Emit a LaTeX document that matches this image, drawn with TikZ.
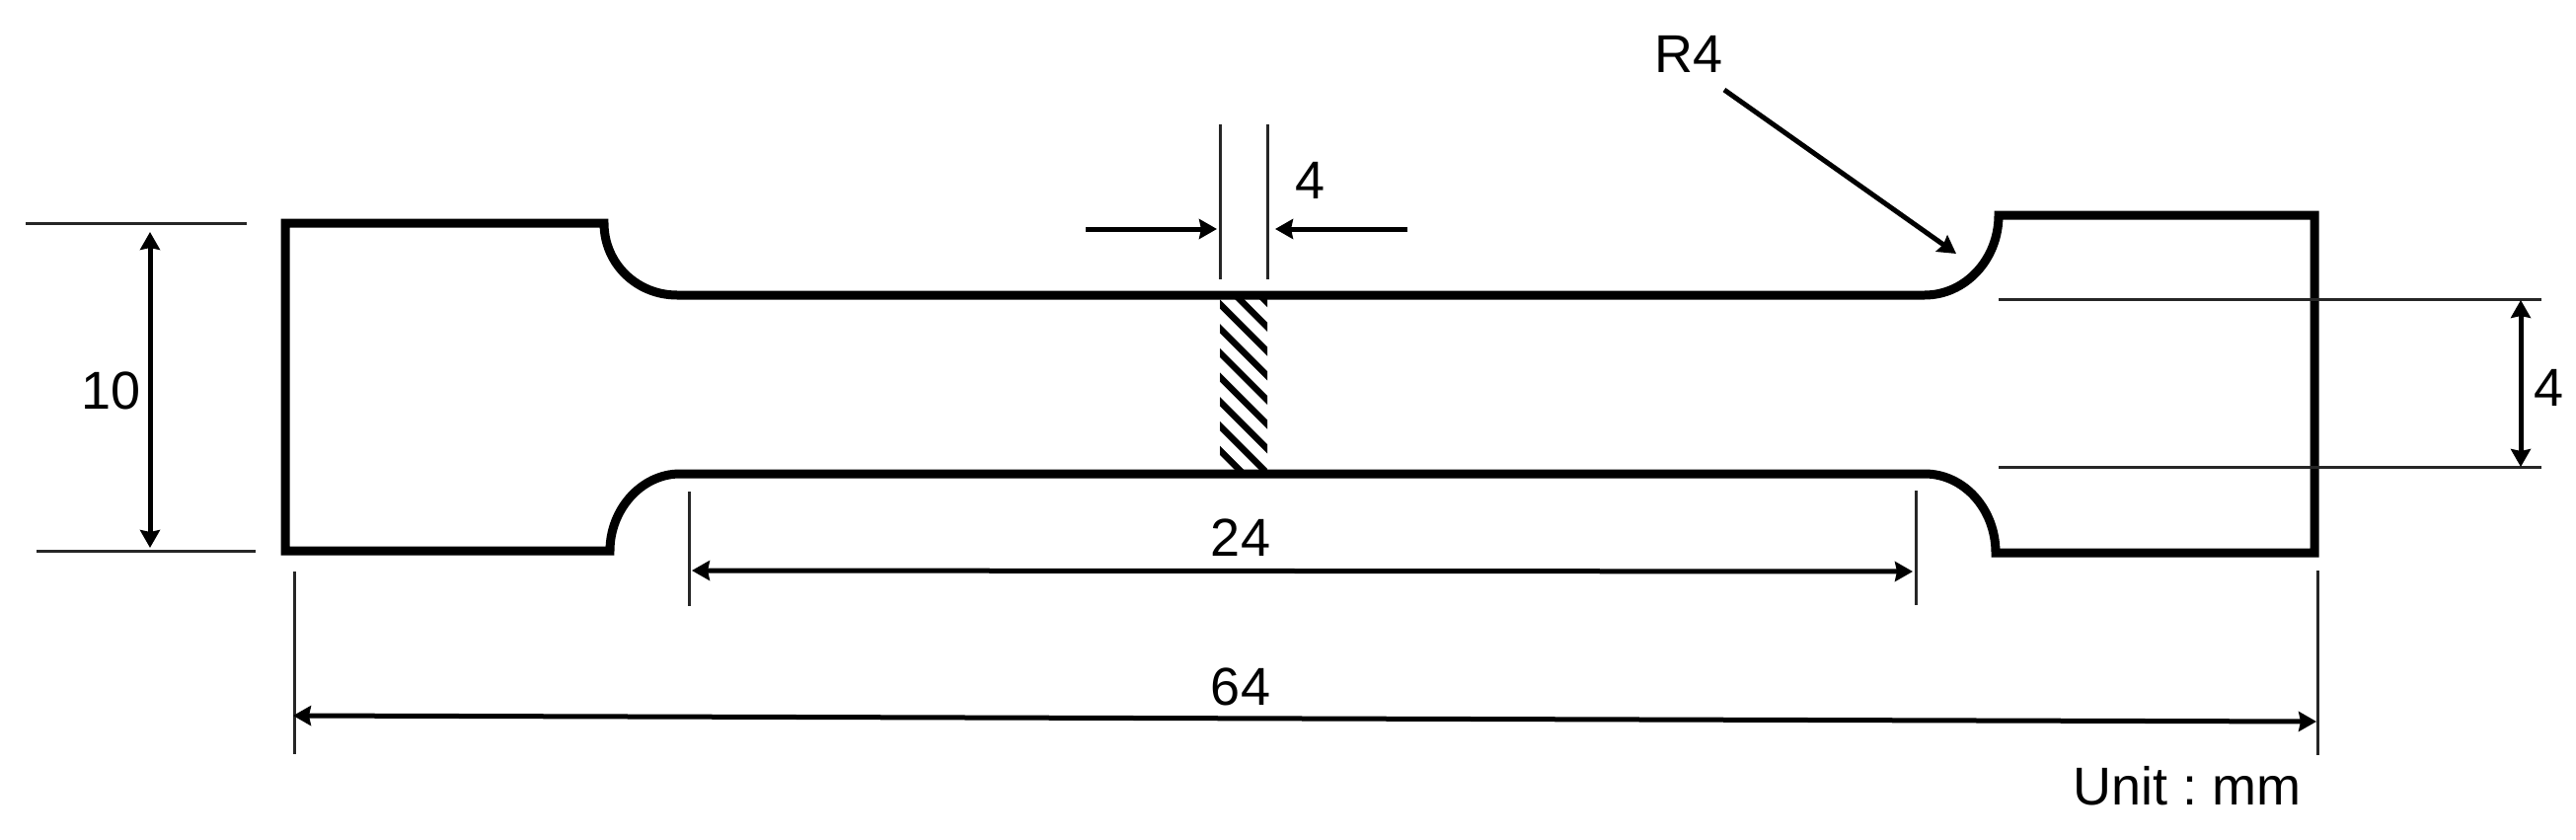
\documentclass[tikz,border=0pt]{standalone}
\usepackage{fontspec}
\setmainfont{Liberation Sans}
\usetikzlibrary{arrows.meta}
\tikzset{
  bodyline/.style={draw=black,line width=9pt,miter limit=4},
  thinline/.style={draw=black!85,line width=3pt},
  dimline/.style={draw=black,line width=5pt,-{Stealth[length=18pt,width=20pt,inset=2pt]}},
  dimboth/.style={draw=black,line width=5pt,{Stealth[length=18pt,width=20pt,inset=2pt]}-{Stealth[length=18pt,width=20pt,inset=2pt]}},
  hatchline/.style={draw=black,line width=6.5pt},
  lbl/.style={inner sep=0pt,outer sep=0pt,anchor=base,font=\fontsize{54}{60}\selectfont\frenchspacing}
}
\begin{document}
\begin{tikzpicture}[x=1pt,y=-1pt]
\useasboundingbox[fill=white] (0,0) rectangle (2610,851);
% hatching
\begin{scope}
\clip (1236,299) rectangle (1284,481);
\foreach \k in {-2,...,6}{
  \draw[hatchline] (1226,{298+\k*24.7}) -- (1294,{366+\k*24.7});
}
\end{scope}
% specimen outline
\draw[bodyline] (612,226) -- (289,226) -- (289,558) -- (618,558)
  .. controls (618,516) and (650,480) .. (689,480)
  -- (1950,480)
  .. controls (1990,480) and (2022,516) .. (2022,560)
  -- (2345,560) -- (2345,218) -- (2025,218)
  .. controls (2025,263) and (1991,299) .. (1950,299)
  -- (686,299)
  .. controls (645,299) and (612,267) .. (612,226) -- cycle;
% coordinates of the extension lines and dimension arrows
\coordinate (tl1) at (26,226);   \coordinate (tl2) at (250,226);
\coordinate (bl1) at (37,558);   \coordinate (bl2) at (259,558);
\coordinate (a10t) at (152,235); \coordinate (a10b) at (152,555);
\coordinate (v1t) at (1236,126); \coordinate (v1b) at (1236,283);
\coordinate (v2t) at (1284,126); \coordinate (v2b) at (1284,283);
\coordinate (a4ls) at (1100,232); \coordinate (a4le) at (1233,232);
\coordinate (a4rs) at (1426,232); \coordinate (a4re) at (1292,232);
\coordinate (rt1) at (2025,303); \coordinate (rt2) at (2575,303);
\coordinate (rb1) at (2025,473); \coordinate (rb2) at (2575,473);
\coordinate (a4t) at (2554,304); \coordinate (a4b) at (2554,473);
\coordinate (v24l1) at (698,498); \coordinate (v24l2) at (698,614);
\coordinate (v24r1) at (1941,497); \coordinate (v24r2) at (1941,613);
\coordinate (a24l) at (701,578); \coordinate (a24r) at (1938,579);
\coordinate (v64l1) at (298,579); \coordinate (v64l2) at (298,764);
\coordinate (v64r1) at (2348,578); \coordinate (v64r2) at (2348,765);
\coordinate (a64l) at (297,725); \coordinate (a64r) at (2347,731);
\coordinate (r4s) at (1747,91); \coordinate (r4e) at (1982,257);
% extension lines
\draw[thinline] (tl1) -- (tl2);
\draw[thinline] (bl1) -- (bl2);
\draw[thinline] (v1t) -- (v1b);
\draw[thinline] (v2t) -- (v2b);
\draw[thinline] (rt1) -- (rt2);
\draw[thinline] (rb1) -- (rb2);
\draw[thinline] (v24l1) -- (v24l2);
\draw[thinline] (v24r1) -- (v24r2);
\draw[thinline] (v64l1) -- (v64l2);
\draw[thinline] (v64r1) -- (v64r2);
% dimension arrows
\draw[dimboth] (a10t) -- (a10b);
\draw[dimline] (a4ls) -- (a4le);
\draw[dimline] (a4rs) -- (a4re);
\draw[dimboth] (a4t) -- (a4b);
\draw[dimboth] (a24l) -- (a24r);
\draw[dimboth] (a64l) -- (a64r);
\draw[dimline] (r4s) -- (r4e);
% labels
\node[lbl] (n10) at (113,414) {10};
\node[lbl] (n4top) at (1327,201) {4};
\node[lbl] (n4right) at (2582,411) {4};
\node[lbl] (nr4) at (1711,74) {R4};
\node[lbl] (n24) at (1257,563) {24};
\node[lbl] (n64) at (1257,714) {64};
\node[lbl] (nunit) at (2216,815) {Unit : mm};
\end{tikzpicture}
\end{document}
